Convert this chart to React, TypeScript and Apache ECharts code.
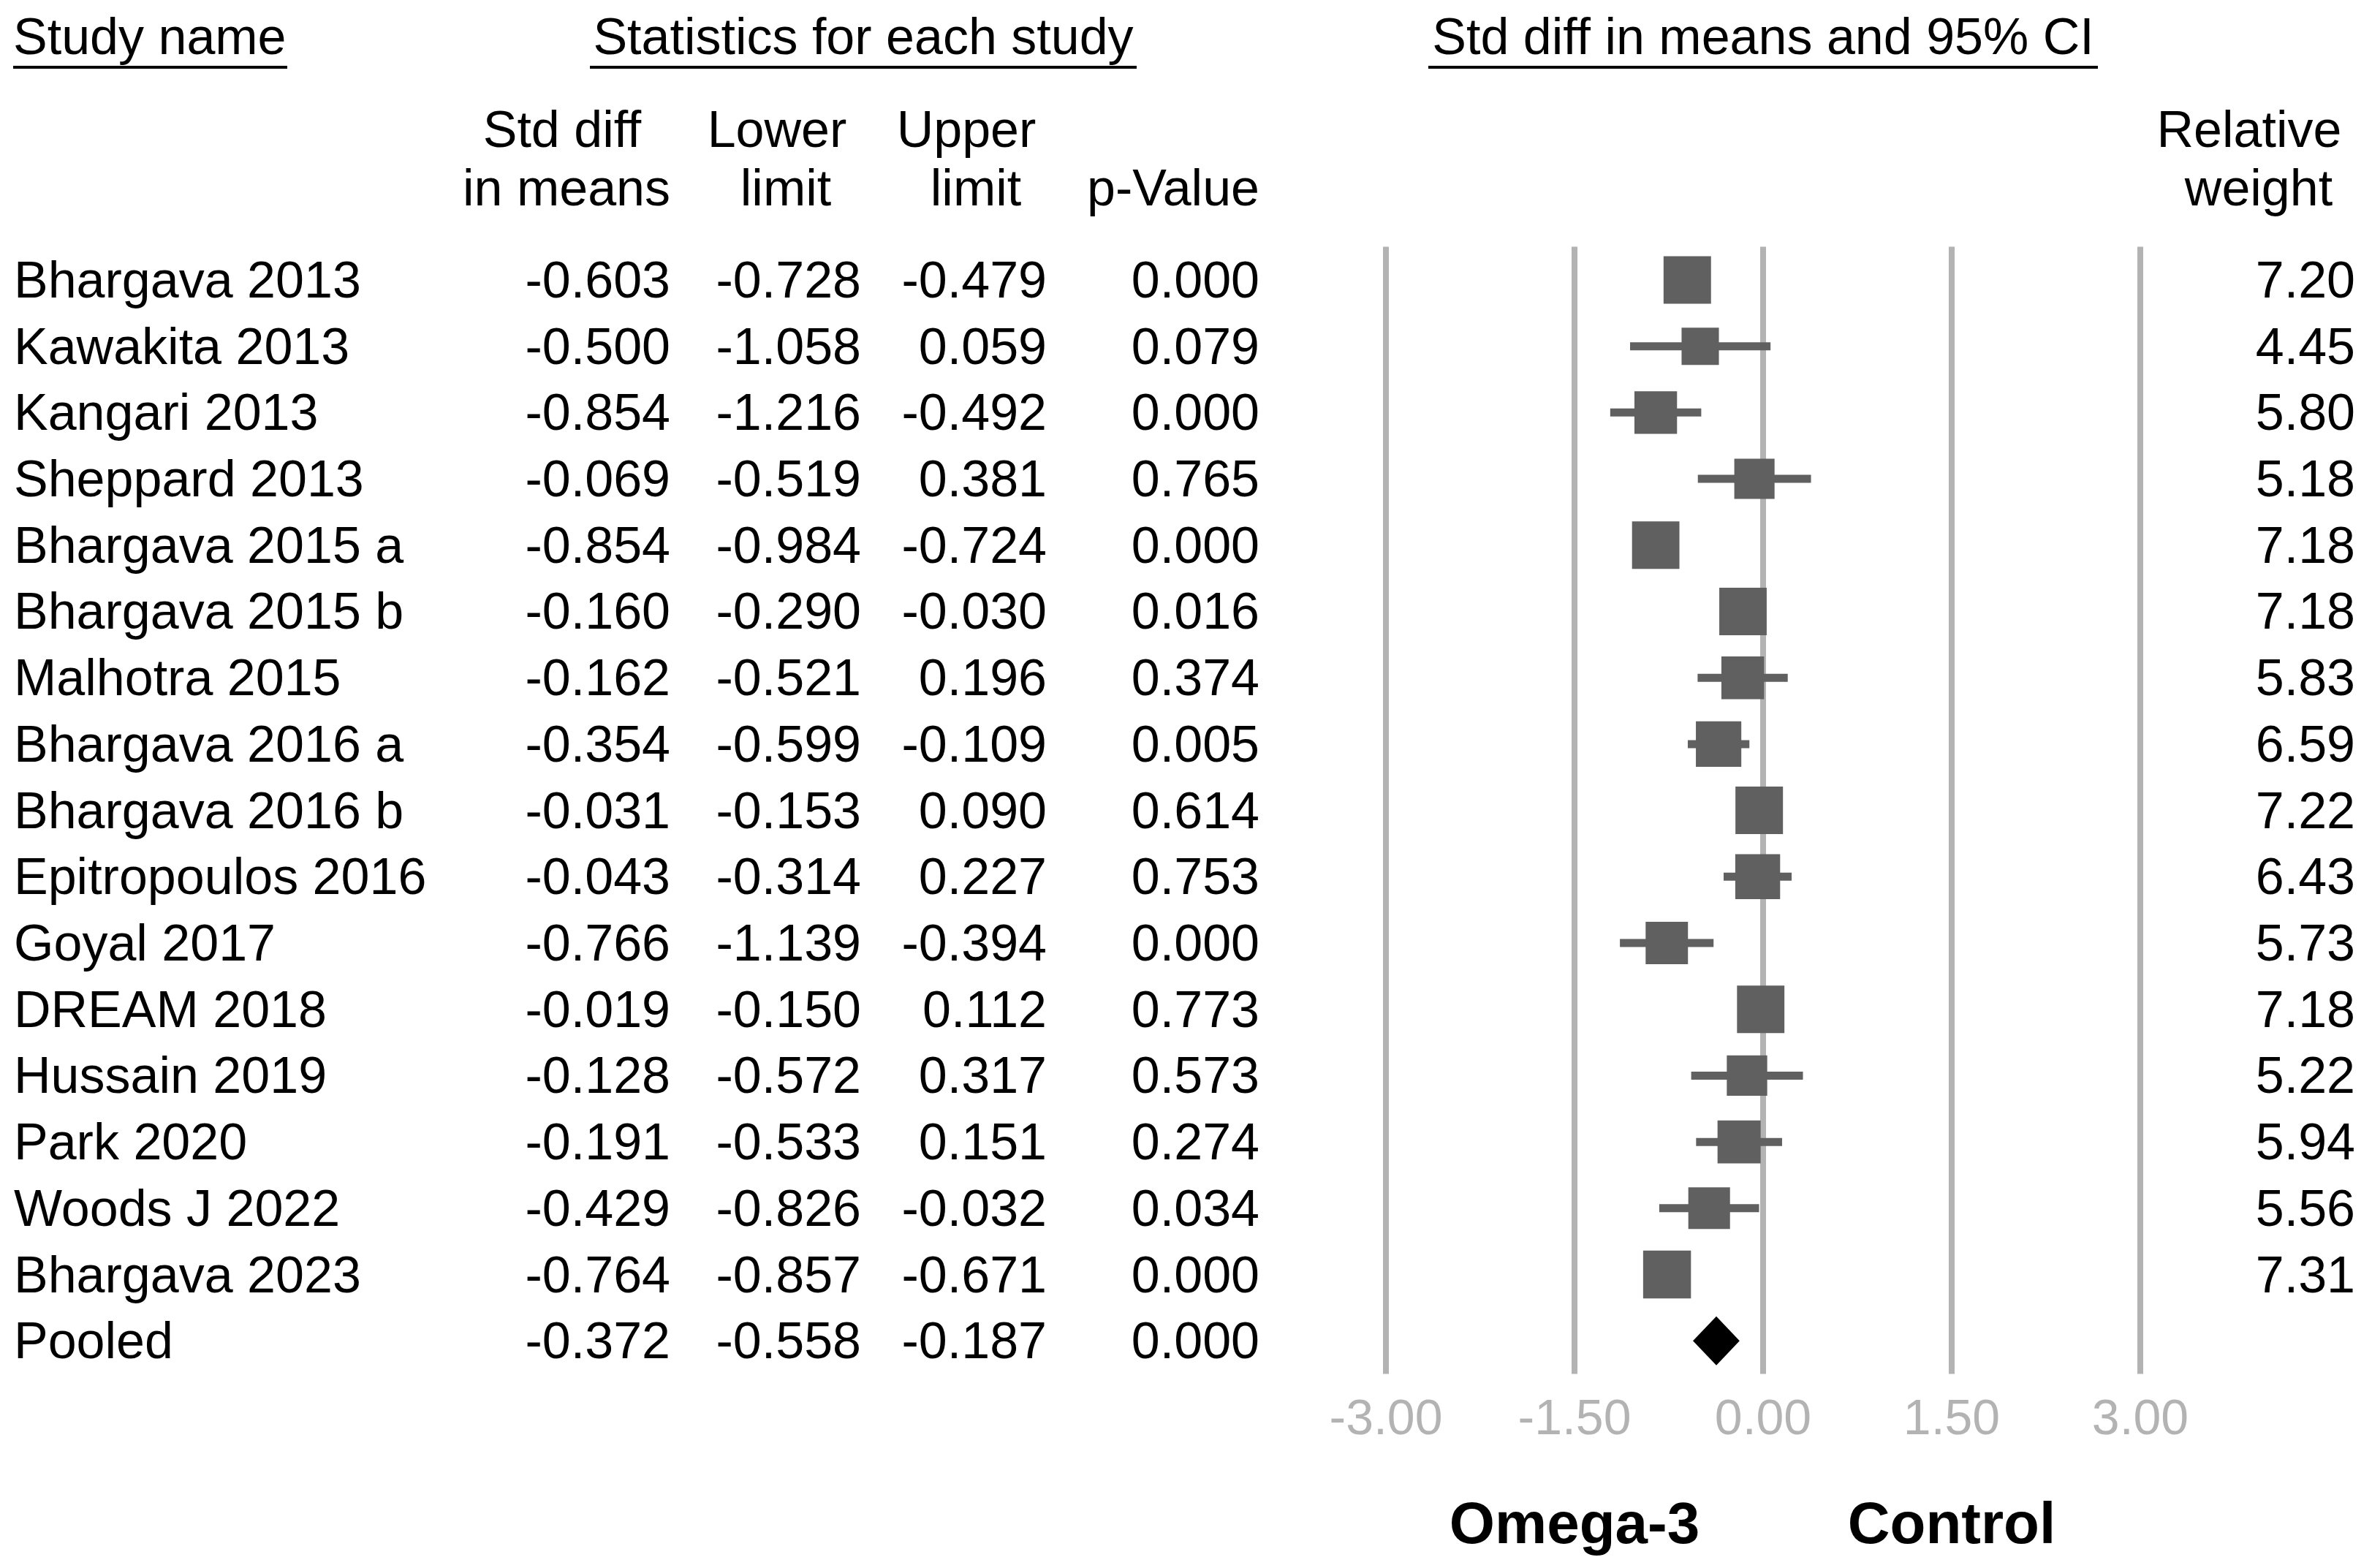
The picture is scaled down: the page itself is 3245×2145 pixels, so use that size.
import React, { useEffect, useRef } from "react";
import * as echarts from "echarts";

const studies = [
  "Bhargava 2013", "Kawakita 2013", "Kangari 2013", "Sheppard 2013",
  "Bhargava 2015 a", "Bhargava 2015 b", "Malhotra 2015", "Bhargava 2016 a",
  "Bhargava 2016 b", "Epitropoulos 2016", "Goyal 2017", "DREAM 2018",
  "Hussain 2019", "Park 2020", "Woods J 2022", "Bhargava 2023", "Pooled",
];
const smd = [-0.603, -0.5, -0.854, -0.069, -0.854, -0.16, -0.162, -0.354, -0.031, -0.043, -0.766, -0.019, -0.128, -0.191, -0.429, -0.764, -0.372];
const lowerLimit = [-0.728, -1.058, -1.216, -0.519, -0.984, -0.29, -0.521, -0.599, -0.153, -0.314, -1.139, -0.15, -0.572, -0.533, -0.826, -0.857, -0.558];
const upperLimit = [-0.479, 0.059, -0.492, 0.381, -0.724, -0.03, 0.196, -0.109, 0.09, 0.227, -0.394, 0.112, 0.317, 0.151, -0.032, -0.671, -0.187];
const pValues = ["0.000", "0.079", "0.000", "0.765", "0.000", "0.016", "0.374", "0.005", "0.614", "0.753", "0.000", "0.773", "0.573", "0.274", "0.034", "0.000", "0.000"];
const relWeight = [7.2, 4.45, 5.8, 5.18, 7.18, 7.18, 5.83, 6.59, 7.22, 6.43, 5.73, 7.18, 5.22, 5.94, 5.56, 7.31, null];
const xTicks = [-3, -1.5, 0, 1.5, 3];
const favours = [
  { label: "Omega-3", at: -1.5 },
  { label: "Control", at: 1.5 },
];

const FONT = "'Liberation Sans', Arial, Helvetica, sans-serif";
const W = 3245;
const H = 2145;
const GRID_LEFT = 1896;
const GRID_RIGHT_X = 2928;
const GRID_TOP = 337.6;
const GRID_BOTTOM_Y = 1879.6;
const SQUARE_K = 24.2;

export default function App() {
  const ref = useRef<HTMLDivElement>(null);

  useEffect(() => {
    document.body.style.margin = "0";
    if (!ref.current) return;
    const chart = echarts.init(ref.current, undefined, { renderer: "svg" });
    const pooledIndex = studies.length - 1;

    const colAxis = (
      position: string,
      text: (i: number) => string,
      margin: number,
      align: string
    ) => ({
      type: "category",
      data: studies,
      inverse: true,
      position,
      gridIndex: 0,
      axisLine: { show: false },
      axisTick: { show: false },
      splitLine: { show: false },
      axisLabel: {
        interval: 0,
        margin,
        align,
        fontSize: 70,
        color: "#000",
        fontFamily: FONT,
        formatter: (_v: string, i: number) => text(i),
      },
    });

    const studyData = studies
      .map((_, i) => [i, lowerLimit[i], smd[i], upperLimit[i], relWeight[i]])
      .filter((d) => d[0] !== pooledIndex);
    const pooledData = [[pooledIndex, lowerLimit[pooledIndex], smd[pooledIndex], upperLimit[pooledIndex]]];

    const option: any = {
      animation: false,
      backgroundColor: "#fff",
      grid: {
        left: GRID_LEFT,
        right: W - GRID_RIGHT_X,
        top: GRID_TOP,
        bottom: H - GRID_BOTTOM_Y,
        containLabel: false,
      },
      xAxis: {
        type: "value",
        min: -3,
        max: 3,
        interval: 1.5,
        axisLine: { show: false },
        axisTick: { show: false },
        splitLine: { show: true, lineStyle: { color: "#b3b3b3", width: 8 } },
        axisLabel: {
          margin: 24,
          fontSize: 68,
          color: "#b3b3b3",
          fontFamily: FONT,
          formatter: (v: number) => (xTicks.includes(v) ? v.toFixed(2) : ""),
        },
      },
      yAxis: [
        colAxis("left", (i) => studies[i], GRID_LEFT - 19, "left"),
        colAxis("left", (i) => smd[i].toFixed(3), GRID_LEFT - 917, "right"),
        colAxis("left", (i) => lowerLimit[i].toFixed(3), GRID_LEFT - 1178, "right"),
        colAxis("left", (i) => upperLimit[i].toFixed(3), GRID_LEFT - 1432, "right"),
        colAxis("left", (i) => pValues[i], GRID_LEFT - 1723, "right"),
        colAxis("right", (i) => (relWeight[i] == null ? "" : (relWeight[i] as number).toFixed(2)), 3222 - GRID_RIGHT_X, "right"),
      ],
      series: [
        {
          type: "custom",
          xAxisIndex: 0,
          yAxisIndex: 0,
          encode: { x: [1, 2, 3], y: 0 },
          data: studyData,
          renderItem: (_p: any, api: any) => {
            const i = api.value(0);
            const lo = api.coord([api.value(1), i]);
            const est = api.coord([api.value(2), i]);
            const hi = api.coord([api.value(3), i]);
            const side = SQUARE_K * Math.sqrt(api.value(4));
            return {
              type: "group",
              children: [
                {
                  type: "rect",
                  shape: { x: lo[0], y: lo[1] - 5.5, width: hi[0] - lo[0], height: 11 },
                  style: { fill: "#606060" },
                },
                {
                  type: "rect",
                  shape: { x: est[0] - side / 2, y: est[1] - side / 2, width: side, height: side },
                  style: { fill: "#606060" },
                },
              ],
            };
          },
        },
        {
          type: "custom",
          xAxisIndex: 0,
          yAxisIndex: 0,
          encode: { x: [1, 2, 3], y: 0 },
          data: pooledData,
          renderItem: (_p: any, api: any) => {
            const i = api.value(0);
            const lo = api.coord([api.value(1), i]);
            const est = api.coord([api.value(2), i]);
            const hi = api.coord([api.value(3), i]);
            const h = 33.5;
            return {
              type: "polygon",
              shape: {
                points: [
                  [lo[0], lo[1]],
                  [est[0], est[1] - h],
                  [hi[0], hi[1]],
                  [est[0], est[1] + h],
                ],
              },
              style: { fill: "#000" },
            };
          },
        },
      ],
    };
    chart.setOption(option);

    const txt = (text: string, x: number, y: number, align: string, extra: any = {}) => ({
      type: "text",
      x,
      y,
      style: {
        text,
        fontSize: 70,
        fontFamily: FONT,
        fill: "#000",
        align,
        verticalAlign: "middle",
        ...extra,
      },
    });
    const uline = (x1: number, x2: number, y: number) => ({
      type: "line",
      shape: { x1, y1: y, x2, y2: y },
      style: { stroke: "#000", lineWidth: 4 },
    });

    const graphics: any[] = [
      txt("Study name", 18, 50, "left"),
      uline(18, 393, 92),
      txt("Statistics for each study", 1181, 50, "center"),
      uline(807, 1555, 92),
      txt("Std diff in means and 95% CI", 2412, 50, "center"),
      uline(1954, 2870, 92),
      txt("Std diff", 769, 177, "center"),
      txt("in means", 775, 257, "center"),
      txt("Lower", 1063, 177, "center"),
      txt("limit", 1075, 257, "center"),
      txt("Upper", 1322, 177, "center"),
      txt("limit", 1335, 257, "center"),
      txt("p-Value", 1605, 257, "center"),
      txt("Relative", 3077, 177, "center"),
      txt("weight", 3090, 257, "center"),
    ];
    favours.forEach((f) => {
      const px = chart.convertToPixel({ xAxisIndex: 0 }, f.at) as number;
      graphics.push(txt(f.label, px, 2083, "center", { fontSize: 80, fontWeight: "bold" }));
    });
    chart.setOption({ graphic: graphics });

    return () => {
      chart.dispose();
    };
  }, []);

  return <div ref={ref} style={{ width: W, height: H }} />;
}
